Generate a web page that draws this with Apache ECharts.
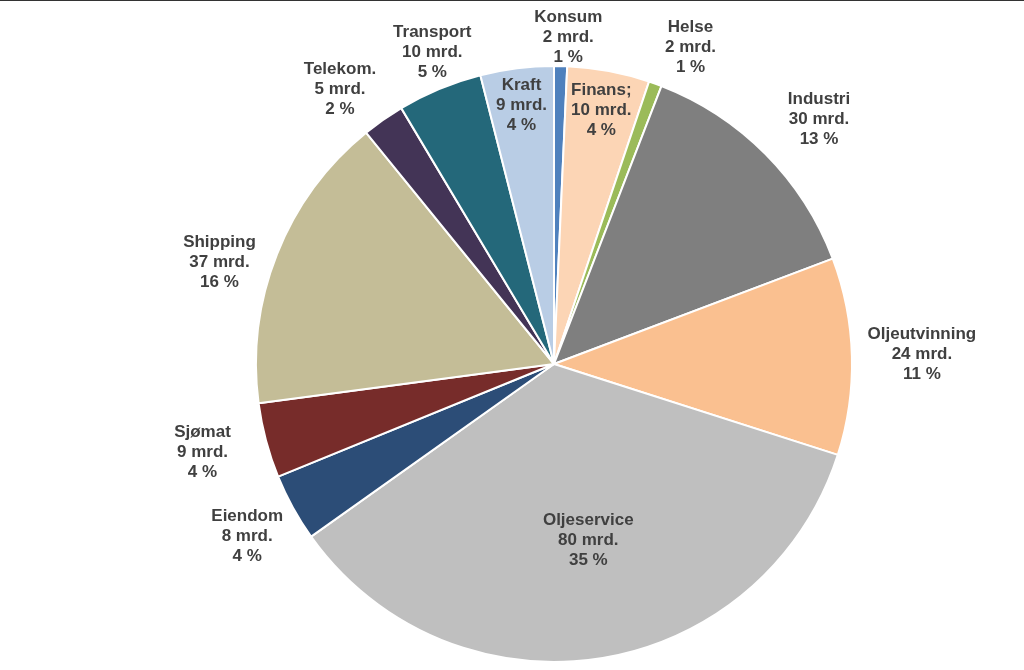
<!DOCTYPE html>
<html>
<head>
<meta charset="utf-8">
<script src="https://cdn.jsdelivr.net/npm/echarts@6/dist/echarts.min.js"></script>
<style>
html,body{margin:0;padding:0;background:#fff;}
#chart{width:1024px;height:670px;box-sizing:border-box;border-top:1px solid #333;}
</style>
</head>
<body>
<div id="chart"></div>
<script>
// Data (mrd. NOK), clockwise from 12 o'clock
const sectors = ['Konsum','Finans;','Helse','Industri','Oljeutvinning','Oljeservice','Eiendom','Sjømat','Shipping','Telekom.','Transport','Kraft'];
const values  = [1.6, 10.1, 1.6, 30.3, 24.2, 79.8, 8.3, 9.2, 36.8, 5.2, 10.4, 9.0];
const colors  = ['#4F81BD','#FCD5B5','#9BBB59','#7F7F7F','#FAC090','#BFBFBF','#2C4D77','#772C2A','#C4BD97','#433456','#24687A','#B9CDE5'];
// label placement: [radial offset from rim, horizontal offset outward]
const labelPlace = [[29,7],[-40,0],[39,22],[50,18],[70,0],[-120,7],[59,-6],[44,21],[-22,78],[37,22],[40,-8],[-37,0]];

const total = values.reduce((a,b)=>a+b,0);
const W = 60;
const data = sectors.map((name,i)=>({
  name: name,
  value: values[i],
  itemStyle: {color: colors[i]},
  label: {distanceToLabelLine: -W/2},
  labelLine: {show:false, length: labelPlace[i][0], length2: labelPlace[i][1]}
}));

const chart = echarts.init(document.getElementById('chart'));
chart.setOption({
  animation: false,
  series: [{
    type: 'pie',
    center: [554, 363],
    radius: 298,
    startAngle: 90,
    clockwise: true,
    avoidLabelOverlap: false,
    labelLayout: {hideOverlap: false},
    data: data,
    itemStyle: {borderColor:'#fff', borderWidth:2},
    label: {
      show: true,
      position: 'outside',
      formatter: p => '{a|' + p.name + '}\n{a|' + Math.round(p.value) + ' mrd.}\n{a|' + Math.round(p.value/total*100) + ' %}',
      rich: {
        a: {width: W, align: 'center', fontFamily: 'Liberation Sans, Arial, sans-serif', fontWeight: 'bold', fontSize: 17, lineHeight: 20, color: '#404040'}
      }
    },
    emphasis: {disabled: true}
  }]
});
</script>
</body>
</html>
